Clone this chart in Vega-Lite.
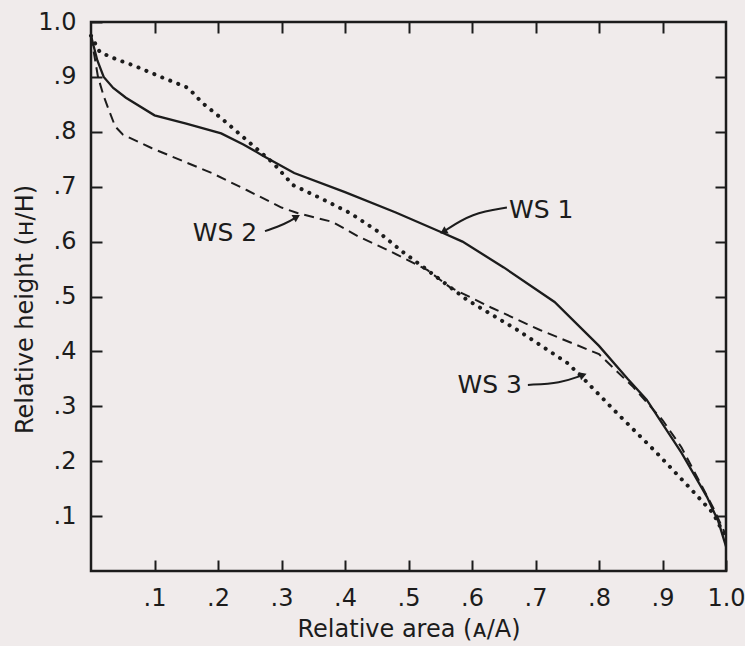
{
  "$schema": "https://vega.github.io/schema/vega-lite/v6.json",
  "width": 635,
  "height": 549,
  "autosize": {"type": "none"},
  "padding": {"left": 91, "top": 22, "right": 19, "bottom": 75},
  "background": "#f0ebeb",
  "config": {
    "view": {"stroke": "#1c1c1c", "strokeWidth": 2.5, "fill": "#f0ebeb"},
    "font": "DejaVu Sans",
    "axis": {
      "grid": false,
      "domain": false,
      "tickSize": -11,
      "tickWidth": 2,
      "tickColor": "#1c1c1c",
      "labelColor": "#1c1c1c",
      "titleColor": "#1c1c1c",
      "labelFontSize": 24,
      "titleFontSize": 24,
      "titleFontWeight": "normal",
      "labelFont": "DejaVu Sans",
      "titleFont": "DejaVu Sans"
    }
  },
  "datasets": {
    "curves": [
      {"series": "WS 1", "a": 0.0, "h": 0.975},
      {"series": "WS 1", "a": 0.01, "h": 0.93},
      {"series": "WS 1", "a": 0.02, "h": 0.9},
      {"series": "WS 1", "a": 0.035, "h": 0.88},
      {"series": "WS 1", "a": 0.055, "h": 0.862},
      {"series": "WS 1", "a": 0.1, "h": 0.83},
      {"series": "WS 1", "a": 0.15, "h": 0.815},
      {"series": "WS 1", "a": 0.205, "h": 0.797},
      {"series": "WS 1", "a": 0.24, "h": 0.777},
      {"series": "WS 1", "a": 0.27, "h": 0.757},
      {"series": "WS 1", "a": 0.32, "h": 0.725},
      {"series": "WS 1", "a": 0.4, "h": 0.69},
      {"series": "WS 1", "a": 0.48, "h": 0.653},
      {"series": "WS 1", "a": 0.55, "h": 0.618},
      {"series": "WS 1", "a": 0.585, "h": 0.6},
      {"series": "WS 1", "a": 0.65, "h": 0.553},
      {"series": "WS 1", "a": 0.73, "h": 0.49},
      {"series": "WS 1", "a": 0.8, "h": 0.41},
      {"series": "WS 1", "a": 0.845, "h": 0.35},
      {"series": "WS 1", "a": 0.875, "h": 0.312},
      {"series": "WS 1", "a": 0.93, "h": 0.215},
      {"series": "WS 1", "a": 0.97, "h": 0.135},
      {"series": "WS 1", "a": 0.988, "h": 0.09},
      {"series": "WS 1", "a": 1.0, "h": 0.045},
      {"series": "WS 2", "a": 0.0, "h": 0.975},
      {"series": "WS 2", "a": 0.011, "h": 0.9},
      {"series": "WS 2", "a": 0.02, "h": 0.865},
      {"series": "WS 2", "a": 0.028, "h": 0.84},
      {"series": "WS 2", "a": 0.038, "h": 0.81},
      {"series": "WS 2", "a": 0.05, "h": 0.795},
      {"series": "WS 2", "a": 0.096, "h": 0.77},
      {"series": "WS 2", "a": 0.19, "h": 0.725},
      {"series": "WS 2", "a": 0.245, "h": 0.694},
      {"series": "WS 2", "a": 0.3, "h": 0.662},
      {"series": "WS 2", "a": 0.325, "h": 0.652},
      {"series": "WS 2", "a": 0.38, "h": 0.636},
      {"series": "WS 2", "a": 0.42, "h": 0.61},
      {"series": "WS 2", "a": 0.47, "h": 0.583},
      {"series": "WS 2", "a": 0.53, "h": 0.548},
      {"series": "WS 2", "a": 0.565, "h": 0.517},
      {"series": "WS 2", "a": 0.63, "h": 0.48},
      {"series": "WS 2", "a": 0.707, "h": 0.439},
      {"series": "WS 2", "a": 0.8, "h": 0.395},
      {"series": "WS 2", "a": 0.854, "h": 0.335},
      {"series": "WS 2", "a": 0.9, "h": 0.275},
      {"series": "WS 2", "a": 0.93, "h": 0.225},
      {"series": "WS 2", "a": 0.98, "h": 0.115},
      {"series": "WS 2", "a": 1.0, "h": 0.065},
      {"series": "WS 3", "a": 0.0, "h": 0.975},
      {"series": "WS 3", "a": 0.014, "h": 0.945},
      {"series": "WS 3", "a": 0.04, "h": 0.932},
      {"series": "WS 3", "a": 0.069, "h": 0.92},
      {"series": "WS 3", "a": 0.11, "h": 0.9},
      {"series": "WS 3", "a": 0.153, "h": 0.88},
      {"series": "WS 3", "a": 0.176, "h": 0.852},
      {"series": "WS 3", "a": 0.205, "h": 0.825},
      {"series": "WS 3", "a": 0.232, "h": 0.798},
      {"series": "WS 3", "a": 0.26, "h": 0.77},
      {"series": "WS 3", "a": 0.287, "h": 0.743},
      {"series": "WS 3", "a": 0.318, "h": 0.703},
      {"series": "WS 3", "a": 0.36, "h": 0.68},
      {"series": "WS 3", "a": 0.408, "h": 0.652},
      {"series": "WS 3", "a": 0.45, "h": 0.62},
      {"series": "WS 3", "a": 0.49, "h": 0.582},
      {"series": "WS 3", "a": 0.523, "h": 0.554},
      {"series": "WS 3", "a": 0.592, "h": 0.494},
      {"series": "WS 3", "a": 0.67, "h": 0.44},
      {"series": "WS 3", "a": 0.75, "h": 0.379},
      {"series": "WS 3", "a": 0.77, "h": 0.357},
      {"series": "WS 3", "a": 0.828, "h": 0.288},
      {"series": "WS 3", "a": 0.891, "h": 0.215},
      {"series": "WS 3", "a": 0.94, "h": 0.155},
      {"series": "WS 3", "a": 0.98, "h": 0.105},
      {"series": "WS 3", "a": 1.0, "h": 0.06}
    ],
    "labels": [
      {"label": "WS 1", "a": 0.709, "h": 0.658},
      {"label": "WS 2", "a": 0.211, "h": 0.616},
      {"label": "WS 3", "a": 0.628, "h": 0.339}
    ],
    "arrows": [
      {"label": "WS 1", "pt": 1, "a": 0.655, "h": 0.662},
      {"label": "WS 1", "pt": 2, "a": 0.6, "h": 0.652},
      {"label": "WS 1", "pt": 3, "a": 0.555, "h": 0.618},
      {"label": "WS 2", "pt": 1, "a": 0.274, "h": 0.619},
      {"label": "WS 2", "pt": 2, "a": 0.306, "h": 0.632},
      {"label": "WS 2", "pt": 3, "a": 0.324, "h": 0.645},
      {"label": "WS 3", "pt": 1, "a": 0.688, "h": 0.339},
      {"label": "WS 3", "pt": 2, "a": 0.739, "h": 0.342},
      {"label": "WS 3", "pt": 3, "a": 0.775, "h": 0.357}
    ]
  },
  "resolve": {"axis": {"x": "independent", "y": "independent"}},
  "layer": [
    {
      "data": {"name": "curves"},
      "transform": [{"filter": "datum.series === 'WS 1'"}],
      "mark": {"type": "line", "color": "#1c1c1c", "strokeWidth": 2.3},
      "encoding": {
        "x": {
          "field": "a", "type": "quantitative",
          "scale": {"domain": [0, 1], "nice": false, "zero": false},
          "axis": {
            "orient": "bottom",
            "values": [0.1, 0.2, 0.3, 0.4, 0.5, 0.6, 0.7, 0.8, 0.9, 1.0],
            "labelExpr": "datum.value >= 0.999 ? '1.0' : replace(format(datum.value, '.1f'), '0.', '.')",
            "labelPadding": 26,
            "labelFlush": false,
            "title": "Relative area (ᴀ/A)",
            "titlePadding": 7
          }
        },
        "y": {
          "field": "h", "type": "quantitative",
          "scale": {"domain": [0, 1], "nice": false, "zero": false},
          "axis": {
            "orient": "left",
            "values": [0.1, 0.2, 0.3, 0.4, 0.5, 0.6, 0.7, 0.8, 0.9, 1.0],
            "labelExpr": "datum.value >= 0.999 ? '1.0' : replace(format(datum.value, '.1f'), '0.', '.')",
            "labelPadding": 26,
            "labelFlush": false,
            "title": "Relative height (ʜ/H)",
            "titlePadding": 0,
            "titleY": 287
          }
        },
        "order": {"field": "a", "type": "quantitative"}
      }
    },
    {
      "data": {"name": "curves"},
      "transform": [{"filter": "datum.series === 'WS 2'"}],
      "mark": {"type": "line", "color": "#1c1c1c", "strokeWidth": 2, "strokeDash": [10, 6]},
      "encoding": {
        "x": {"field": "a", "type": "quantitative", "axis": null},
        "y": {"field": "h", "type": "quantitative", "axis": null},
        "order": {"field": "a", "type": "quantitative"}
      }
    },
    {
      "data": {"name": "curves"},
      "transform": [{"filter": "datum.series === 'WS 3'"}],
      "mark": {"type": "line", "color": "#1c1c1c", "strokeWidth": 4, "strokeDash": [0.1, 8.5], "strokeCap": "round"},
      "encoding": {
        "x": {"field": "a", "type": "quantitative", "axis": null},
        "y": {"field": "h", "type": "quantitative", "axis": null},
        "order": {"field": "a", "type": "quantitative"}
      }
    },
    {
      "data": {"name": "arrows"},
      "mark": {"type": "line", "color": "#1c1c1c", "strokeWidth": 2, "interpolate": "basis"},
      "encoding": {
        "x": {"field": "a", "type": "quantitative", "axis": null},
        "y": {"field": "h", "type": "quantitative", "axis": null},
        "detail": {"field": "label"},
        "order": {"field": "pt", "type": "quantitative"}
      }
    },
    {
      "data": {"name": "arrows"},
      "transform": [{"filter": "datum.label === 'WS 1' && datum.pt === 3"}],
      "mark": {"type": "point", "shape": "triangle-up", "filled": true, "color": "#1c1c1c", "size": 70, "angle": 239, "opacity": 1},
      "encoding": {
        "x": {"field": "a", "type": "quantitative", "axis": null},
        "y": {"field": "h", "type": "quantitative", "axis": null}
      }
    },
    {
      "data": {"name": "arrows"},
      "transform": [{"filter": "datum.label === 'WS 2' && datum.pt === 3"}],
      "mark": {"type": "point", "shape": "triangle-up", "filled": true, "color": "#1c1c1c", "size": 70, "angle": 60, "opacity": 1},
      "encoding": {
        "x": {"field": "a", "type": "quantitative", "axis": null},
        "y": {"field": "h", "type": "quantitative", "axis": null}
      }
    },
    {
      "data": {"name": "arrows"},
      "transform": [{"filter": "datum.label === 'WS 3' && datum.pt === 3"}],
      "mark": {"type": "point", "shape": "triangle-up", "filled": true, "color": "#1c1c1c", "size": 70, "angle": 71, "opacity": 1},
      "encoding": {
        "x": {"field": "a", "type": "quantitative", "axis": null},
        "y": {"field": "h", "type": "quantitative", "axis": null}
      }
    },
    {
      "data": {"name": "labels"},
      "mark": {"type": "text", "font": "DejaVu Sans", "fontSize": 25, "color": "#1c1c1c", "align": "center", "baseline": "middle"},
      "encoding": {
        "x": {
          "field": "a", "type": "quantitative",
          "axis": {
            "orient": "top",
            "values": [0.1, 0.2, 0.3, 0.4, 0.5, 0.6, 0.7, 0.8, 0.9],
            "labels": false,
            "title": null
          }
        },
        "y": {
          "field": "h", "type": "quantitative",
          "axis": {
            "orient": "right",
            "values": [0.1, 0.2, 0.3, 0.4, 0.5, 0.6, 0.7, 0.8, 0.9],
            "labels": false,
            "title": null
          }
        },
        "text": {"field": "label"}
      }
    }
  ]
}
